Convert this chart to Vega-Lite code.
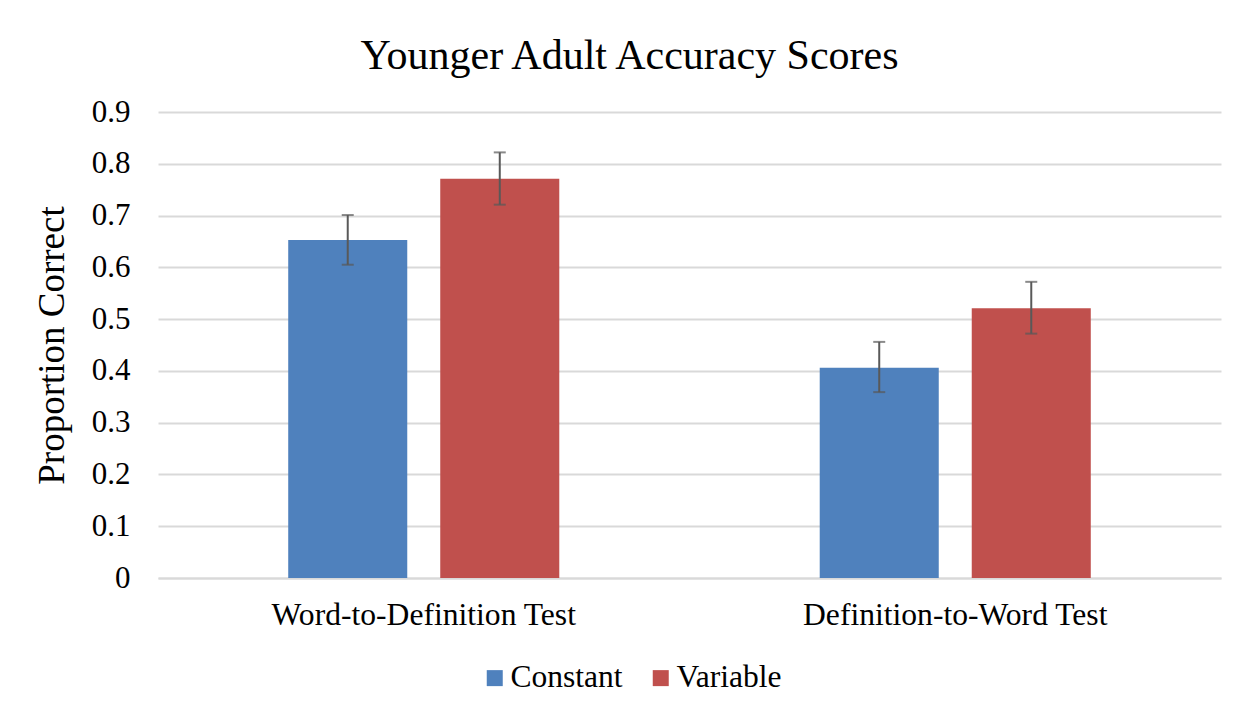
{
  "$schema": "https://vega.github.io/schema/vega-lite/v6.json",
  "width": 1063,
  "height": 466,
  "autosize": {"type": "none"},
  "padding": {"left": 158, "top": 112, "right": 27, "bottom": 137},
  "background": "white",
  "title": {
    "text": "Younger Adult Accuracy Scores",
    "font": "Liberation Serif",
    "fontSize": 42,
    "fontWeight": "normal",
    "color": "#000000",
    "anchor": "middle",
    "dx": -60,
    "offset": 18
  },
  "config": {
    "font": "Liberation Serif",
    "view": {"stroke": null}
  },
  "data": {
    "values": [
      {"test": "Word-to-Definition Test", "condition": "Constant", "mean": 0.653, "lo": 0.605, "hi": 0.701},
      {"test": "Word-to-Definition Test", "condition": "Variable", "mean": 0.771, "lo": 0.721, "hi": 0.822},
      {"test": "Definition-to-Word Test", "condition": "Constant", "mean": 0.406, "lo": 0.359, "hi": 0.456},
      {"test": "Definition-to-Word Test", "condition": "Variable", "mean": 0.521, "lo": 0.472, "hi": 0.572}
    ]
  },
  "encoding": {
    "x": {
      "field": "test",
      "type": "nominal",
      "sort": ["Word-to-Definition Test", "Definition-to-Word Test"],
      "scale": {"paddingInner": 0.49, "paddingOuter": 0.245},
      "axis": {
        "title": null,
        "labelAngle": 0,
        "labelLimit": 0,
        "labelFont": "Liberation Serif",
        "labelFontSize": 31.6,
        "labelColor": "#000000",
        "labelPadding": 21,
        "ticks": false,
        "domain": true,
        "domainColor": "#D9D9D9",
        "domainWidth": 2,
        "grid": false
      }
    },
    "xOffset": {
      "field": "condition",
      "type": "nominal",
      "sort": ["Constant", "Variable"],
      "scale": {"paddingInner": 0.217, "paddingOuter": 0}
    }
  },
  "layer": [
    {
      "mark": {"type": "bar"},
      "encoding": {
        "y": {
          "field": "mean",
          "type": "quantitative",
          "scale": {"domain": [0, 0.9], "nice": false},
          "axis": {
            "values": [0, 0.1, 0.2, 0.3, 0.4, 0.5, 0.6, 0.7, 0.8, 0.9],
            "format": "~g",
            "title": "Proportion Correct",
            "titleFont": "Liberation Serif",
            "titleFontSize": 37,
            "titleFontWeight": "normal",
            "titleColor": "#000000",
            "titlePadding": 20,
            "labelFont": "Liberation Serif",
            "labelFontSize": 31,
            "labelColor": "#000000",
            "labelPadding": 28,
            "ticks": false,
            "domain": false,
            "grid": true,
            "gridColor": "#D9D9D9",
            "gridWidth": 2
          }
        },
        "color": {
          "field": "condition",
          "type": "nominal",
          "sort": ["Constant", "Variable"],
          "scale": {"domain": ["Constant", "Variable"], "range": ["#4F81BD", "#C0504D"]},
          "legend": {
            "title": null,
            "orient": "none",
            "direction": "horizontal",
            "legendX": 321,
            "legendY": 550,
            "symbolType": "square",
            "symbolSize": 256,
            "symbolStrokeWidth": 0,
            "symbolOpacity": 1,
            "labelFont": "Liberation Serif",
            "labelFontSize": 31.5,
            "labelColor": "#000000",
            "labelOffset": 0,
            "labelLimit": 0,
            "columnPadding": 22
          }
        }
      }
    },
    {
      "mark": {"type": "rule", "color": "#595959", "strokeWidth": 2},
      "encoding": {
        "y": {"field": "lo", "type": "quantitative"},
        "y2": {"field": "hi"}
      }
    },
    {
      "mark": {"type": "tick", "color": "#595959", "thickness": 2, "size": 12, "orient": "horizontal"},
      "encoding": {
        "y": {"field": "lo", "type": "quantitative"}
      }
    },
    {
      "mark": {"type": "tick", "color": "#595959", "thickness": 2, "size": 12, "orient": "horizontal"},
      "encoding": {
        "y": {"field": "hi", "type": "quantitative"}
      }
    }
  ]
}
